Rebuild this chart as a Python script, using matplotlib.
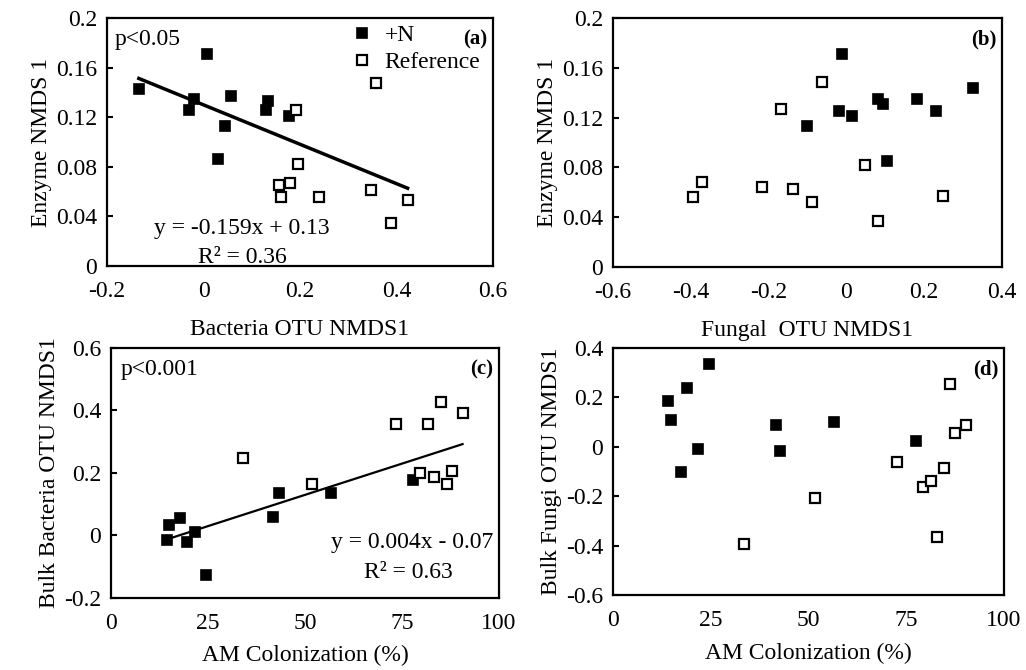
import matplotlib
matplotlib.use("Agg")
import matplotlib.pyplot as plt
import numpy as np

plt.rcParams['font.family'] = ['Liberation Serif', 'DejaVu Serif']

# (a) Bacteria OTU NMDS1 vs Enzyme NMDS 1
a_n_x = [-0.134, 0.008, -0.031, -0.019, 0.057, 0.045, 0.031, 0.129, 0.133, 0.178]
a_n_y = [0.143, 0.171, 0.126, 0.135, 0.137, 0.113, 0.086, 0.126, 0.133, 0.121]
a_r_x = [0.192, 0.357, 0.195, 0.157, 0.161, 0.179, 0.240, 0.347, 0.423, 0.388]
a_r_y = [0.126, 0.148, 0.082, 0.065, 0.056, 0.067, 0.056, 0.061, 0.053, 0.035]
a_fit = (-0.159, 0.13)

# (b) Fungal OTU NMDS1 vs Enzyme NMDS 1
b_n_x = [-0.012, 0.082, 0.094, -0.018, 0.015, -0.101, 0.182, 0.231, 0.325, 0.105]
b_n_y = [0.171, 0.135, 0.131, 0.125, 0.121, 0.113, 0.135, 0.125, 0.144, 0.085]
b_r_x = [-0.062, -0.168, 0.049, -0.372, -0.394, -0.216, -0.137, -0.088, 0.082, 0.248]
b_r_y = [0.149, 0.127, 0.082, 0.068, 0.056, 0.064, 0.063, 0.052, 0.037, 0.057]

# (c) AM colonization vs bulk bacteria OTU NMDS1
c_n_x = [14.4, 15.0, 17.9, 19.6, 21.7, 24.5, 41.7, 43.4, 56.7, 77.8]
c_n_y = [-0.016, 0.033, 0.055, -0.021, 0.012, -0.125, 0.060, 0.137, 0.137, 0.178]
c_r_x = [34.0, 51.7, 73.4, 81.7, 85.0, 90.6, 79.6, 83.3, 86.7, 87.8]
c_r_y = [0.248, 0.164, 0.357, 0.357, 0.427, 0.392, 0.200, 0.186, 0.164, 0.205]
c_fit = (0.004, -0.07)

# (d) AM colonization vs bulk fungi OTU NMDS1
d_n_x = [14.1, 14.7, 19.0, 24.6, 17.5, 21.8, 41.6, 42.7, 56.6, 77.6]
d_n_y = [0.187, 0.107, 0.238, 0.335, -0.103, -0.008, 0.089, -0.016, 0.099, 0.022]
d_r_x = [33.4, 51.6, 72.6, 79.2, 81.4, 84.7, 82.9, 86.2, 87.5, 90.3]
d_r_y = [-0.392, -0.207, -0.060, -0.164, -0.138, -0.085, -0.364, 0.255, 0.057, 0.089]

FS = 17

fig = plt.figure(figsize=(10.26, 6.7), dpi=100)
ax_a = fig.add_axes([0.1043, 0.603, 0.3762, 0.370])
ax_b = fig.add_axes([0.5975, 0.6015, 0.3791, 0.3716])
ax_c = fig.add_axes([0.1082, 0.1075, 0.3782, 0.3731])
ax_d = fig.add_axes([0.5975, 0.1119, 0.3811, 0.3687])


def scatter(ax, nx, ny, rx, ry):
    hn, = ax.plot(nx, ny, 's', ms=7.5, mfc='black', mec='black', mew=1.2,
                  ls='none', label='+N', zorder=3)
    hr, = ax.plot(rx, ry, 's', ms=7.5, mfc='white', mec='black', mew=1.6,
                  ls='none', label='Reference', zorder=3)
    return hn, hr


def style(ax, xlim, xticks, ylim, yticks, xlabel, ylabel, tag, xpad=8):
    ax.set_xlim(xlim)
    ax.set_ylim(ylim)
    ax.set_xticks(xticks)
    ax.set_yticks(yticks)
    ax.set_xticklabels([f"{t:g}" for t in xticks])
    ax.set_yticklabels([f"{t:g}" for t in yticks])
    ax.tick_params(axis='y', direction='in', length=4, width=1.5, labelsize=FS, pad=7)
    ax.tick_params(axis='x', length=0, labelsize=FS, pad=11)
    for s in ax.spines.values():
        s.set_linewidth(1.6)
    ax.set_xlabel(xlabel, fontsize=FS, labelpad=xpad)
    ax.set_ylabel(ylabel, fontsize=FS, labelpad=3)
    ax.text(0.985, 0.955, tag, transform=ax.transAxes, ha='right', va='top',
            fontsize=FS - 2, fontweight='bold')


# (a)
hn, hr = scatter(ax_a, a_n_x, a_n_y, a_r_x, a_r_y)
xs = np.array([min(a_n_x + a_r_x), max(a_n_x + a_r_x)])
ax_a.plot(xs, a_fit[0] * xs + a_fit[1], color='black', lw=2.5, zorder=2)
style(ax_a, (-0.2, 0.6), [-0.2, 0, 0.2, 0.4, 0.6], (0, 0.2),
      [0, 0.04, 0.08, 0.12, 0.16, 0.2], 'Bacteria OTU NMDS1', 'Enzyme NMDS 1', '(a)',
      xpad=12)
ax_a.text(0.02, 0.955, 'p<0.05', transform=ax_a.transAxes, ha='left', va='top', fontsize=FS)
ax_a.text(0.35, 0.15, 'y = -0.159x + 0.13', transform=ax_a.transAxes,
          ha='center', va='center', fontsize=FS)
ax_a.text(0.35, 0.035, 'R² = 0.36', transform=ax_a.transAxes,
          ha='center', va='center', fontsize=FS)
ax_a.legend(handles=[hn, hr], loc='upper left', bbox_to_anchor=(0.585, 1.06),
            frameon=False, fontsize=FS, handlelength=0.7, handletextpad=0.6,
            labelspacing=0.25, markerscale=1.0)

# (b)
scatter(ax_b, b_n_x, b_n_y, b_r_x, b_r_y)
style(ax_b, (-0.6, 0.4), [-0.6, -0.4, -0.2, 0, 0.2, 0.4], (0, 0.2),
      [0, 0.04, 0.08, 0.12, 0.16, 0.2], 'Fungal  OTU NMDS1', 'Enzyme NMDS 1', '(b)',
      xpad=12)

# (c)
scatter(ax_c, c_n_x, c_n_y, c_r_x, c_r_y)
xs = np.array([min(c_n_x + c_r_x), max(c_n_x + c_r_x)])
ax_c.plot(xs, c_fit[0] * xs + c_fit[1], color='black', lw=1.6, zorder=2)
style(ax_c, (0, 100), [0, 25, 50, 75, 100], (-0.2, 0.6),
      [-0.2, 0, 0.2, 0.4, 0.6], 'AM Colonization (%)', 'Bulk Bacteria OTU NMDS1', '(c)')
ax_c.text(0.025, 0.955, 'p<0.001', transform=ax_c.transAxes, ha='left', va='top', fontsize=FS)
ax_c.text(0.985, 0.22, 'y = 0.004x - 0.07', transform=ax_c.transAxes,
          ha='right', va='center', fontsize=FS)
ax_c.text(0.88, 0.1, 'R² = 0.63', transform=ax_c.transAxes,
          ha='right', va='center', fontsize=FS)

# (d)
scatter(ax_d, d_n_x, d_n_y, d_r_x, d_r_y)
style(ax_d, (0, 100), [0, 25, 50, 75, 100], (-0.6, 0.4),
      [-0.6, -0.4, -0.2, 0, 0.2, 0.4], 'AM Colonization (%)', 'Bulk Fungi OTU NMDS1', '(d)')

fig.savefig('out.png', dpi=100)
